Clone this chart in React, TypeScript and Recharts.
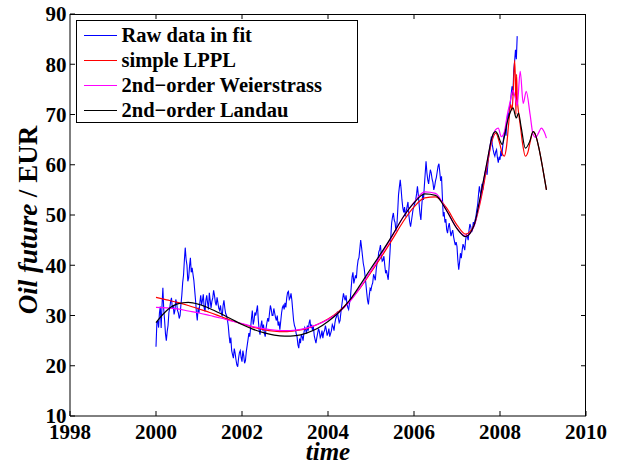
import React from 'react';
import { LineChart, Line, XAxis, YAxis, Legend } from 'recharts';

// Raw oil future prices (EUR), sampled every 0.02 year from 2000.0
const rawStartYear = 2000;
const rawStepYears = 0.02;
const rawPrice = [
  // 2000
  23.8, 28.5, 29.0, 27.6, 30.5, 31.8, 27.5, 32.0, 35.5, 31.2, 29.0, 26.4, 25.0, 26.8, 28.0, 30.6, 31.5, 32.8, 33.5, 31.4,
  32.0, 30.2, 31.0, 33.2, 32.5, 31.0, 30.5, 29.4, 30.0, 32.2, 34.0, 36.5, 38.0, 41.0, 43.5, 41.2, 40.0, 36.8, 37.5, 39.8,
  41.5, 38.6, 39.5, 38.2, 37.0, 35.0, 33.0, 30.6, 29.0, 31.6,
  // 2001
  30.5, 32.6, 34.0, 32.1, 33.0, 34.2, 31.5, 30.8, 33.0, 34.0, 32.5, 31.2, 34.5, 33.0, 31.5, 32.8, 33.5, 35.0, 34.0, 32.6,
  32.0, 33.6, 32.5, 31.4, 31.0, 32.0, 30.5, 29.8, 32.0, 33.0, 31.5, 30.4, 30.0, 29.2, 28.0, 26.0, 24.5, 25.6, 23.0, 22.2,
  21.5, 23.4, 22.5, 21.2, 20.2, 19.8, 21.5, 22.6, 23.0, 21.6,
  // 2002
  20.8, 23.0, 22.0, 20.5, 21.0, 22.8, 24.0, 25.2, 26.5, 25.8, 27.5, 29.4, 31.0, 28.2, 29.0, 30.6, 30.0, 31.0, 32.0, 29.0,
  27.0, 26.2, 28.0, 29.0, 27.0, 28.2, 26.5, 25.8, 27.5, 28.6, 29.5, 28.8, 30.5, 32.0, 31.2, 30.0, 30.0, 31.4, 30.5, 29.6,
  29.0, 30.0, 28.0, 28.8, 27.2, 28.8, 30.5, 31.6, 32.0, 31.2,
  // 2003
  32.5, 31.6, 33.5, 34.6, 34.8, 33.2, 33.5, 34.4, 33.0, 31.0, 29.0, 28.0, 27.5, 26.4, 25.8, 24.2, 23.5, 25.4, 24.5, 26.2,
  25.8, 25.0, 26.5, 27.6, 27.2, 26.4, 28.0, 27.0, 28.5, 29.2, 27.5, 28.2, 27.0, 27.8, 26.0, 25.2, 24.5, 25.6, 26.5, 27.4,
  26.8, 25.6, 26.0, 27.0, 25.5, 26.6, 27.0, 28.0, 27.2, 26.0,
  // 2004
  26.5, 27.4, 25.8, 26.4, 27.0, 28.2, 27.8, 27.0, 28.5, 29.4, 29.8, 30.8, 29.5, 28.6, 29.0, 30.6, 32.0, 33.2, 34.4, 33.6,
  33.0, 34.0, 32.4, 31.6, 31.2, 32.4, 33.5, 35.6, 37.7, 38.6, 36.4, 37.2, 38.0, 37.4, 39.7, 41.0, 41.5, 43.2, 45.0, 43.6,
  42.0, 40.4, 39.5, 38.0, 36.4, 34.6, 33.0, 32.2, 34.0, 35.4,
  // 2005
  35.1, 36.0, 36.5, 38.2, 37.7, 37.0, 39.0, 40.4, 41.0, 42.6, 43.1, 44.0, 42.0, 40.8, 41.0, 41.8, 40.0, 38.4, 39.0, 38.0,
  37.1, 39.6, 42.4, 45.6, 48.4, 49.6, 50.4, 49.0, 48.5, 46.8, 47.7, 50.6, 54.0, 55.6, 57.0, 55.2, 53.0, 51.4, 50.5, 51.6,
  49.7, 50.8, 51.7, 52.6, 50.0, 48.6, 47.7, 48.8, 50.0, 51.2,
  // 2006
  51.7, 52.4, 53.0, 54.2, 55.7, 54.0, 52.0, 50.2, 49.0, 51.8, 54.0, 53.0, 55.7, 58.2, 60.7, 58.4, 57.0, 56.2, 57.7, 59.0,
  58.4, 57.2, 56.5, 55.0, 55.7, 56.8, 57.5, 58.6, 59.7, 60.2, 58.5, 56.8, 57.7, 53.6, 49.7, 50.6, 48.5, 49.2, 47.1, 46.4,
  47.7, 48.4, 47.0, 45.8, 46.5, 47.0, 45.7, 44.8, 44.0, 44.6,
  // 2007
  43.7, 41.0, 39.1, 40.6, 42.4, 41.4, 43.0, 44.2, 43.7, 43.0, 45.0, 46.0, 45.7, 45.0, 47.0, 48.2, 47.7, 46.6, 47.1, 48.6,
  48.0, 49.0, 49.7, 51.0, 52.0, 54.0, 55.7, 54.6, 53.7, 56.2, 55.0, 56.4, 57.7, 58.6, 59.0, 58.0, 60.4, 62.0, 63.0, 64.4,
  65.6, 64.0, 63.0, 62.2, 61.7, 62.6, 63.0, 61.4, 60.4, 61.6,
  // 2008
  61.0, 62.8, 61.7, 63.4, 65.0, 66.2, 67.0, 65.8, 68.5, 70.2, 69.6, 71.4, 72.3, 74.0, 75.6, 73.8, 78.9, 80.6, 82.9, 81.0,
  85.6,
];

// simple LPPL fit
const lpplTime = [
  2000, 2000.25, 2000.5, 2000.75, 2001, 2001.25, 2001.5, 2001.75, 2002, 2002.25, 2002.5, 2002.75,
  2003, 2003.25, 2003.5, 2003.75, 2004, 2004.25, 2004.5, 2004.75, 2005, 2005.25, 2005.5, 2005.75,
  2006, 2006.25, 2006.5, 2006.75, 2007, 2007.2, 2007.4, 2007.5, 2007.6, 2007.7, 2007.8, 2007.9,
  2008.0, 2008.05, 2008.1, 2008.15, 2008.2, 2008.25, 2008.28, 2008.31, 2008.34, 2008.36, 2008.37,
  2008.385, 2008.4, 2008.43, 2008.47, 2008.52, 2008.59, 2008.65, 2008.7, 2008.77, 2008.84, 2008.9,
  2009.0, 2009.08,
];
const lpplPrice = [
  33.6, 33.1, 32.6, 32.0, 31.3, 30.6, 29.8, 29.0, 28.3, 27.7, 27.2, 26.9,
  26.8, 27.0, 27.4, 28.2, 29.3, 30.8, 32.9, 35.5, 38.6, 41.8, 45.2, 48.7,
  51.6, 53.4, 53.6, 51.5, 48.0, 46.2, 48.0, 51.0, 55.0, 59.8, 64.3, 66.3,
  64.0, 62.3, 61.7, 63.5, 68.0, 72.0, 70.8, 75.0, 80.8, 76.0, 70.0,
  78.0, 73.6, 70.5, 68.0, 64.5, 61.7, 62.5, 64.5, 66.6, 65.6, 63.5,
  59.0, 55.0,
];

// 2nd-order Weierstrass fit
const weierTime = [
  2000, 2000.25, 2000.5, 2000.75, 2001, 2001.25, 2001.5, 2001.75, 2002, 2002.25, 2002.5, 2002.75,
  2003, 2003.25, 2003.5, 2003.75, 2004, 2004.25, 2004.5, 2004.75, 2005, 2005.25, 2005.5, 2005.75,
  2006, 2006.25, 2006.5, 2006.75, 2007, 2007.2, 2007.4, 2007.5, 2007.6, 2007.7, 2007.8, 2007.9,
  2007.96, 2008.03, 2008.1, 2008.17, 2008.23, 2008.3, 2008.35, 2008.4, 2008.47, 2008.54, 2008.61,
  2008.7, 2008.77, 2008.83, 2008.9, 2008.96, 2009.03, 2009.08,
];
const weierPrice = [
  31.6, 31.5, 31.3, 30.9, 30.5, 30.0, 29.5, 28.9, 28.4, 27.8, 27.4, 27.1,
  27.0, 27.1, 27.5, 28.2, 29.2, 30.6, 32.7, 35.6, 38.9, 42.3, 45.9, 49.6,
  52.5, 54.6, 54.3, 51.0, 47.3, 45.8, 47.8, 51.5, 56.0, 60.5, 64.8, 67.0,
  67.3, 65.6, 66.5, 70.0, 72.3, 74.8, 73.5, 71.8, 78.6, 72.2, 74.6,
  70.0, 66.0, 65.4, 66.4, 67.3, 66.5, 65.3,
];

// 2nd-order Landau fit
const landauTime = [
  2000, 2000.25, 2000.5, 2000.75, 2001, 2001.25, 2001.5, 2001.75, 2002, 2002.25, 2002.5, 2002.75,
  2003, 2003.25, 2003.5, 2003.75, 2004, 2004.25, 2004.5, 2004.75, 2005, 2005.25, 2005.5, 2005.75,
  2006, 2006.25, 2006.5, 2006.75, 2007, 2007.2, 2007.4, 2007.5, 2007.6, 2007.7, 2007.8, 2007.85,
  2007.9, 2007.95, 2008.0, 2008.05, 2008.1, 2008.15, 2008.22, 2008.3, 2008.38, 2008.43, 2008.49,
  2008.59, 2008.69, 2008.77, 2008.84, 2008.9, 2009.0, 2009.08,
];
const landauPrice = [
  28.6, 31.0, 32.3, 32.6, 32.2, 31.4, 30.4, 29.3, 28.2, 27.3, 26.6, 26.1,
  25.9, 26.0, 26.5, 27.4, 28.8, 30.6, 33.0, 36.1, 39.4, 42.6, 46.0, 49.6,
  52.4, 54.2, 53.9, 51.0, 47.3, 45.7, 48.0, 51.8, 56.2, 60.6, 65.0, 66.3,
  66.6, 66.0, 64.8, 64.0, 65.5, 67.8, 70.0, 71.3, 69.3, 70.3, 67.6,
  63.3, 64.6, 66.6, 65.6, 63.5, 59.0, 55.0,
];

const xDomain = [1998, 2010];
const yDomain = [10, 90];
const xTicks = [1998, 2000, 2002, 2004, 2006, 2008, 2010];
const yTicks = [10, 20, 30, 40, 50, 60, 70, 80, 90];

const seriesNames = ['Raw data in fit', 'simple LPPL', '2nd\u2212order Weierstrass', '2nd\u2212order Landau'];
const seriesColors = ['#0000ff', '#ff0000', '#ff00ff', '#000000'];

const rawData = rawPrice.map((p, i) => ({ t: +(rawStartYear + i * rawStepYears).toFixed(3), p }));
const zip = (ts: number[], ps: number[]) => ts.map((t, i) => ({ t, p: ps[i] }));
const lpplData = zip(lpplTime, lpplPrice);
const weierData = zip(weierTime, weierPrice);
const landauData = zip(landauTime, landauPrice);

// layout
const W = 618;
const H = 464;
const MARGIN = { top: 14, right: 32, left: 0, bottom: 0 };
const Y_AXIS_W = 70;
const X_AXIS_H = 48;
const PLOT_L = MARGIN.left + Y_AXIS_W;
const PLOT_R = W - MARGIN.right;
const PLOT_T = MARGIN.top;
const PLOT_B = H - MARGIN.bottom - X_AXIS_H;
const TICK_LEN = 5;
const frameX = (t: number) => PLOT_L + ((t - xDomain[0]) / (xDomain[1] - xDomain[0])) * (PLOT_R - PLOT_L);
const frameY = (v: number) => PLOT_B - ((v - yDomain[0]) / (yDomain[1] - yDomain[0])) * (PLOT_B - PLOT_T);

const FONT = "'Liberation Serif', 'Times New Roman', serif";
const tickStyle = { fill: '#000', fontSize: 21, fontWeight: 'bold', fontFamily: FONT } as any;
const axisLineStyle = { stroke: '#000', strokeWidth: 1 };

const renderLegend = () => (
  <div
    style={{
      width: 282,
      height: 103,
      boxSizing: 'border-box',
      border: '1px solid #000',
      background: '#fff',
      paddingTop: 1.5,
      fontFamily: FONT,
    }}
  >
    {seriesNames.map((name, i) => (
      <div key={name} style={{ height: 25, display: 'flex', alignItems: 'center' }}>
        <div style={{ marginLeft: 6.5, width: 33, height: 0, borderTop: `1px solid ${seriesColors[i]}` }} />
        <span style={{ marginLeft: 5, fontSize: 20.5, fontWeight: 'bold', color: '#000', lineHeight: '25px' }}>{name}</span>
      </div>
    ))}
  </div>
);

export default function App() {
  return (
    <div style={{ position: 'absolute', left: 0, top: 0, width: W, height: H, background: '#fff' }}>
      <LineChart width={W} height={H} margin={MARGIN}>
        <XAxis
          type="number"
          dataKey="t"
          domain={xDomain}
          ticks={xTicks}
          allowDataOverflow
          height={X_AXIS_H}
          axisLine={axisLineStyle}
          tickLine={{ stroke: '#000' }}
          tickSize={-TICK_LEN}
          tickMargin={13}
          tick={tickStyle}
          interval={0}
        />
        <YAxis
          type="number"
          domain={yDomain}
          ticks={yTicks}
          allowDataOverflow
          width={Y_AXIS_W}
          axisLine={axisLineStyle}
          tickLine={{ stroke: '#000' }}
          tickSize={-TICK_LEN}
          tickMargin={8.5}
          tick={tickStyle}
          interval={0}
        />
        <Legend
          layout="vertical"
          align="center"
          verticalAlign="middle"
          content={renderLegend}
          wrapperStyle={{ left: 76, top: 20, width: 282, height: 103 }}
        />
        <Line data={rawData} dataKey="p" name={seriesNames[0]} stroke={seriesColors[0]} strokeWidth={1.1} dot={false} type="linear" isAnimationActive={false} />
        <Line data={lpplData} dataKey="p" name={seriesNames[1]} stroke={seriesColors[1]} strokeWidth={1.2} dot={false} type="monotone" isAnimationActive={false} />
        <Line data={weierData} dataKey="p" name={seriesNames[2]} stroke={seriesColors[2]} strokeWidth={1.2} dot={false} type="monotone" isAnimationActive={false} />
        <Line data={landauData} dataKey="p" name={seriesNames[3]} stroke={seriesColors[3]} strokeWidth={1.2} dot={false} type="monotone" isAnimationActive={false} />
      </LineChart>
      {/* top and right sides of the axes box (HTML borders) */}
      <div
        style={{
          position: 'absolute',
          left: PLOT_L,
          top: PLOT_T,
          width: PLOT_R - PLOT_L,
          height: PLOT_B - PLOT_T,
          boxSizing: 'border-box',
          borderTop: '1px solid #000',
          borderRight: '1px solid #000',
          pointerEvents: 'none',
          zIndex: 5,
        }}
      />
      <svg
        width={W}
        height={H}
        style={{ position: 'absolute', left: 0, top: 0, pointerEvents: 'none', zIndex: 10 }}
      >
        {xTicks.slice(1, -1).map((t) => (
          <line key={`tt${t}`} x1={frameX(t)} y1={PLOT_T} x2={frameX(t)} y2={PLOT_T + TICK_LEN} stroke="#000" strokeWidth={1} />
        ))}
        {yTicks.slice(1, -1).map((v) => (
          <line key={`rt${v}`} x1={PLOT_R} y1={frameY(v)} x2={PLOT_R - TICK_LEN} y2={frameY(v)} stroke="#000" strokeWidth={1} />
        ))}
        <text x={328} y={460} textAnchor="middle" fontFamily={FONT} fontSize={25} fontWeight="bold" fontStyle="italic" fill="#000">
          time
        </text>
        <text
          transform="translate(37,220) rotate(-90)"
          textAnchor="middle"
          fontFamily={FONT}
          fontSize={27}
          fontWeight="bold"
          fill="#000"
        >
          <tspan fontStyle="italic">Oil future</tspan>
          <tspan> / EUR</tspan>
        </text>
      </svg>
    </div>
  );
}
